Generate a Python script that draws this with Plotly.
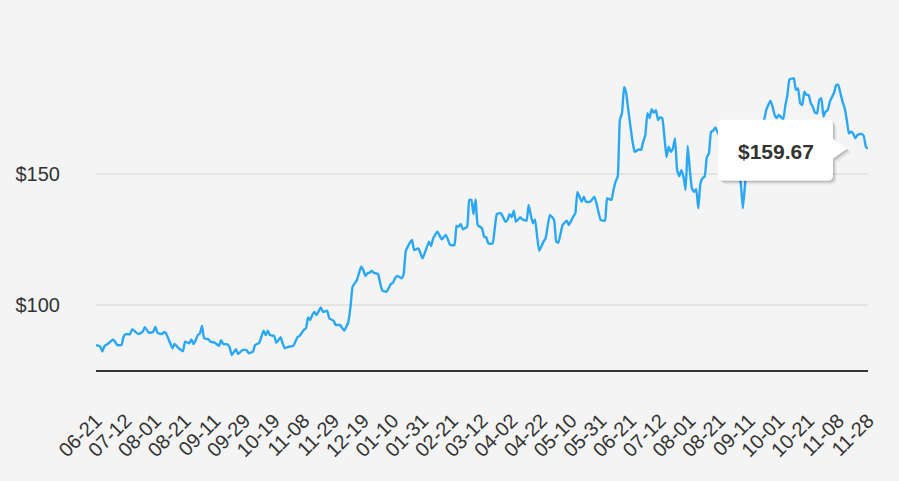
import plotly.graph_objects as go

# ---- data (trading-day index since 06-21, closing price in $) ----
tick_labels = ["06-21", "07-12", "08-01", "08-21", "09-11", "09-29", "10-19", "11-08", "11-29",
               "12-19", "01-10", "01-31", "02-21", "03-12", "04-02", "04-22", "05-10", "05-31",
               "06-21", "07-12", "08-01", "08-21", "09-11", "10-01", "10-21", "11-08", "11-28"]
days_per_tick = 14

day = [0, 2, 3, 4, 6, 8, 9, 10, 12, 13,
       14, 16, 17, 18, 20, 22, 23, 25, 27, 28,
       29, 31, 32, 33, 35, 36, 37, 39, 41, 42,
       44, 45, 46, 47, 48, 49, 50, 51, 53, 54,
       56, 58, 59, 60, 62, 63, 64, 66, 67, 69,
       71, 72, 74, 75, 77, 79, 80, 81, 82, 84,
       85, 86, 87, 88, 89, 91, 93, 95, 96, 98,
       99, 100, 101, 102, 103, 104, 106, 107, 109, 110,
       112, 113, 115, 116, 117, 119, 120, 121, 123, 125,
       126, 127, 128, 129, 130, 131, 133, 134, 135, 137,
       139, 140, 141, 142, 144, 145, 146, 147, 149, 150,
       152, 154, 157, 158, 159, 161, 163, 165, 167, 169,
       170, 171, 172, 173, 175, 176, 177, 178, 179, 180,
       182, 183, 184, 185, 187, 189, 191, 193, 194, 195,
       196, 197, 198, 200, 201, 203, 204, 205, 206, 207,
       208, 209, 211, 212, 214, 216, 217, 218, 220, 222,
       223, 225, 226, 227, 229, 230, 231, 233, 235, 236,
       238, 240, 241, 243, 244, 245, 246, 247, 248, 249,
       250, 251, 253, 254, 256, 257, 258, 259, 260, 261,
       262, 263, 264, 265, 266, 267, 268, 269, 270, 271,
       272, 273, 274, 275, 276, 277, 278, 279, 280, 281,
       282, 283, 284, 285, 286, 287, 288, 289, 290, 291,
       292, 293, 295, 297, 299, 301, 303, 304, 305, 306,
       307, 309, 311, 313, 315, 316, 317, 318, 319, 320,
       321, 322, 324, 325, 326, 327, 329, 330, 331, 332,
       333, 334, 335, 336, 337, 338, 339, 340, 341, 342,
       343, 344, 345, 346, 348, 349, 350, 351, 352, 353,
       354, 355, 356, 357, 358, 359, 361, 362, 363, 364]

price = [84.7, 84.1, 82.2, 84.4, 85.4, 86.9, 86.0, 84.7, 84.7, 87.9,
         88.9, 88.8, 90.7, 90.2, 88.9, 89.8, 91.5, 89.4, 89.8, 91.7,
         89.4, 88.9, 89.6, 89.2, 85.4, 83.5, 85.1, 83.5, 82.4, 86.0,
         85.4, 86.9, 85.1, 86.6, 88.5, 89.2, 92.0, 87.3, 86.9, 86.0,
         85.6, 84.4, 86.6, 85.1, 85.0, 83.9, 80.9, 83.1, 81.3, 82.8,
         82.8, 81.6, 82.2, 84.7, 85.6, 90.2, 88.5, 90.2, 88.5, 88.2,
         85.6, 86.6, 87.7, 85.4, 83.5, 84.1, 84.4, 87.7, 88.2, 90.5,
         91.1, 95.3, 94.3, 96.2, 97.4, 96.2, 99.1, 97.4, 97.8, 94.9,
         94.0, 92.4, 92.4, 91.3, 90.2, 93.6, 99.4, 107.0, 109.5, 114.6,
         113.4, 111.1, 112.1, 112.3, 113.1, 112.3, 111.8, 108.3, 105.5, 105.1,
         108.0, 108.5, 110.2, 111.1, 110.2, 111.5, 120.3, 122.3, 124.8, 121.0,
         121.6, 117.8, 124.2, 122.5, 125.5, 128.0, 125.1, 126.7, 122.9, 122.9,
         130.2, 129.9, 130.9, 128.9, 129.9, 140.1, 140.1, 134.7, 140.3, 130.5,
         129.3, 126.1, 125.8, 123.5, 123.5, 134.7, 135.0, 131.8, 132.4, 134.7,
         133.5, 136.0, 131.8, 133.5, 132.7, 132.2, 138.2, 134.4, 131.2, 132.7,
         126.1, 120.7, 124.2, 125.5, 134.4, 132.4, 124.2, 123.8, 130.5, 132.2,
         130.5, 133.7, 135.0, 143.2, 139.4, 141.3, 139.4, 139.4, 141.3, 138.8,
         132.4, 132.2, 140.7, 140.1, 143.9, 147.1, 149.0, 170.6, 173.2, 183.2,
         180.8, 174.4, 162.3, 158.5, 159.4, 159.2, 162.3, 164.9, 173.2, 171.3,
         174.7, 173.4, 174.4, 170.6, 171.6, 171.3, 164.2, 156.4, 160.4, 158.5,
         159.8, 163.6, 151.5, 149.2, 151.5, 149.0, 143.9, 160.7, 151.5, 144.5,
         143.2, 144.2, 136.9, 146.5, 148.4, 149.0, 156.4, 157.9, 166.1, 166.5,
         167.8, 166.1, 163.0, 157.3, 159.2, 152.0, 150.0, 146.5, 136.9, 145.8,
         153.4, 159.2, 163.7, 167.6, 170.6, 174.4, 176.3, 178.0, 175.7, 172.5,
         171.3, 172.5, 170.9, 176.0, 180.2, 186.1, 186.5, 182.1, 182.7, 177.0,
         176.3, 181.4, 180.2, 180.2, 177.0, 175.7, 173.4, 173.2, 178.2, 178.9,
         171.9, 173.8, 174.4, 177.6, 181.0, 184.0, 184.0, 180.8, 177.6, 175.1,
         170.6, 165.5, 166.1, 165.5, 163.6, 164.9, 165.3, 164.5, 160.4, 159.67]

y_ticks = [100, 150]
y_tick_labels = ["$100", "$150"]

assert len(day) == len(price)

# ---- layout constants ----
W, H = 899, 481
ML, MR, MT, MB = 96, 31, 43, 111
YMIN, YMAX = 75.2, 200
XMIN, XMAX = 0, (len(tick_labels) - 1) * days_per_tick
BG = "#f4f4f4"
LINE = "#2aa8f6"
TXT = "#333333"
FONT = "Liberation Sans, Arial, sans-serif"

tick_vals = [i * days_per_tick for i in range(len(tick_labels))]

fig = go.Figure()
fig.add_trace(go.Scatter(x=day, y=price, mode="lines",
                         line=dict(color=LINE, width=2.4, shape="spline", smoothing=0.4),
                         hoverinfo="skip"))

# ---- tooltip callout anchored to the last point ----
PW, PH = W - ML - MR, H - MT - MB


def px_of(xv, yv):
    return (ML + (xv - XMIN) / (XMAX - XMIN) * PW,
            MT + (YMAX - yv) / (YMAX - YMIN) * PH)


def to_paper(px, py):
    return ((px - ML) / PW, (H - MB - py) / PH)


lx, ly = px_of(day[-1], price[-1])
tipx, tipy = lx - 21, ly
x0, x1 = tipx - 129, tipx - 14
y0, y1 = tipy - 29, tipy + 32
r = 5
ah = 10


def callout(dx=0, dy=0):
    pts = []

    def P(cmd, *coords):
        vals = []
        for i in range(0, len(coords), 2):
            qx, qy = to_paper(coords[i] + dx, coords[i + 1] + dy)
            vals.append(f"{qx:.5f},{qy:.5f}")
        pts.append(cmd + " " + " ".join(vals))

    P("M", x0 + r, y0)
    P("L", x1 - r, y0)
    P("Q", x1, y0, x1, y0 + r)
    P("L", x1, tipy - ah)
    P("L", tipx, tipy)
    P("L", x1, tipy + ah)
    P("L", x1, y1 - r)
    P("Q", x1, y1, x1 - r, y1)
    P("L", x0 + r, y1)
    P("Q", x0, y1, x0, y1 - r)
    P("L", x0, y0 + r)
    P("Q", x0, y0, x0 + r, y0)
    return " ".join(pts) + " Z"


shapes = []
for off, op in [(4, 0.03), (3, 0.05), (2, 0.08), (1, 0.10)]:
    shapes.append(dict(type="path", xref="paper", yref="paper", path=callout(off, off),
                       fillcolor=f"rgba(0,0,0,{op})", line=dict(width=0), layer="above"))
shapes.append(dict(type="path", xref="paper", yref="paper", path=callout(),
                   fillcolor="#ffffff", line=dict(width=0), layer="above"))

cx, cy = to_paper((x0 + x1) / 2, (y0 + y1) / 2 + 1)

fig.update_layout(
    width=W, height=H,
    margin=dict(l=ML, r=MR, t=MT, b=MB, autoexpand=False),
    paper_bgcolor=BG, plot_bgcolor=BG,
    showlegend=False, hovermode=False,
    font=dict(family=FONT, size=20, color=TXT),
    shapes=shapes,
    annotations=[dict(xref="paper", yref="paper", x=cx, y=cy, showarrow=False,
                      text=f"<b>${price[-1]:.2f}</b>",
                      font=dict(family=FONT, size=21, color=TXT),
                      xanchor="center", yanchor="middle")],
    xaxis=dict(range=[XMIN, XMAX], tickvals=tick_vals, ticktext=tick_labels,
               tickangle=-45, showgrid=False, zeroline=False,
               showline=True, linecolor="#333333", linewidth=2,
               ticks="", ticklabelstandoff=29, automargin=False,
               tickfont=dict(family=FONT, size=20, color=TXT)),
    yaxis=dict(range=[YMIN, YMAX], tickvals=y_ticks, ticktext=y_tick_labels,
               showgrid=True, gridcolor="#e4e4e4", gridwidth=2,
               zeroline=False, showline=False, ticks="",
               ticklabelstandoff=35, automargin=False,
               tickfont=dict(family=FONT, size=20, color=TXT)),
)

fig.write_html("out.html")
